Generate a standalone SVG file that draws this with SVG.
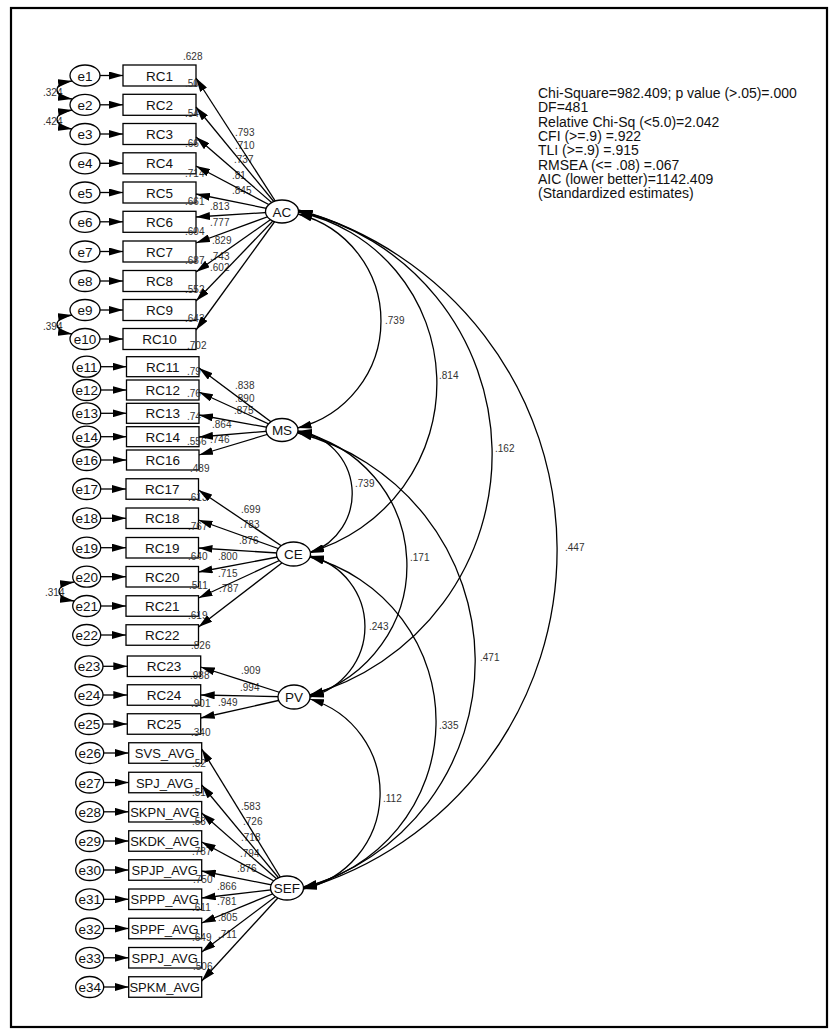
<svg xmlns="http://www.w3.org/2000/svg" width="838" height="1036" viewBox="0 0 838 1036">
<style>
.box{fill:#fff;stroke:#000;stroke-width:1.3}
.el{fill:#fff;stroke:#000;stroke-width:1.3}
.t{font-family:"Liberation Sans",Arial,sans-serif;font-size:13.5px;text-anchor:middle;fill:#111}
.ta{font-family:"Liberation Sans",Arial,sans-serif;font-size:13px;text-anchor:middle;fill:#111}
.v{font-family:"Liberation Sans",Arial,sans-serif;font-size:10px;fill:#333}
.fit{font-family:"Liberation Sans",Arial,sans-serif;font-size:14px;fill:#111}
.c{fill:none;stroke:#000;stroke-width:1.3;marker-end:url(#ah)}
.cv{fill:none;stroke:#000;stroke-width:1.3;marker-start:url(#ah);marker-end:url(#ah)}
</style>
<defs>
<marker id="ah" viewBox="0 0 14 8" refX="14" refY="4" markerWidth="14" markerHeight="8" markerUnits="userSpaceOnUse" orient="auto-start-reverse"><path d="M0,0 L14,4 L0,8 z" fill="#000"/></marker>
</defs>
<rect x="0" y="0" width="838" height="1036" fill="#fff"/>
<rect x="11" y="8" width="816" height="1019" fill="none" stroke="#000" stroke-width="2.2"/>

<!-- error terms -->
<g id="e1"><ellipse class="el" cx="85" cy="75.5" rx="15" ry="10.5"/><text class="t" x="85" y="80.5">e1</text></g>
<g id="e2"><ellipse class="el" cx="85" cy="104.8" rx="15" ry="10.5"/><text class="t" x="85" y="109.8">e2</text></g>
<g id="e3"><ellipse class="el" cx="85" cy="134" rx="15" ry="10.5"/><text class="t" x="85" y="139">e3</text></g>
<g id="e4"><ellipse class="el" cx="85" cy="163.3" rx="15" ry="10.5"/><text class="t" x="85" y="168.3">e4</text></g>
<g id="e5"><ellipse class="el" cx="85" cy="192.5" rx="15" ry="10.5"/><text class="t" x="85" y="197.5">e5</text></g>
<g id="e6"><ellipse class="el" cx="85" cy="221.8" rx="15" ry="10.5"/><text class="t" x="85" y="226.8">e6</text></g>
<g id="e7"><ellipse class="el" cx="85" cy="251.5" rx="15" ry="10.5"/><text class="t" x="85" y="256.5">e7</text></g>
<g id="e8"><ellipse class="el" cx="85" cy="281" rx="15" ry="10.5"/><text class="t" x="85" y="286">e8</text></g>
<g id="e9"><ellipse class="el" cx="85" cy="310" rx="15" ry="10.5"/><text class="t" x="85" y="315">e9</text></g>
<g id="e10"><ellipse class="el" cx="85" cy="339" rx="15" ry="10.5"/><text class="t" x="85" y="344">e10</text></g>
<g id="e11"><ellipse class="el" cx="86.7" cy="366.7" rx="14" ry="10.5"/><text class="t" x="86.7" y="371.7">e11</text></g>
<g id="e12"><ellipse class="el" cx="86.7" cy="390" rx="14" ry="10.5"/><text class="t" x="86.7" y="395">e12</text></g>
<g id="e13"><ellipse class="el" cx="86.7" cy="413.3" rx="14" ry="10.5"/><text class="t" x="86.7" y="418.3">e13</text></g>
<g id="e14"><ellipse class="el" cx="86.7" cy="436.7" rx="14" ry="10.5"/><text class="t" x="86.7" y="441.7">e14</text></g>
<g id="e16"><ellipse class="el" cx="86.7" cy="460" rx="14" ry="10.5"/><text class="t" x="86.7" y="465">e16</text></g>
<g id="e17"><ellipse class="el" cx="86.7" cy="489" rx="14" ry="10.5"/><text class="t" x="86.7" y="494">e17</text></g>
<g id="e18"><ellipse class="el" cx="86.7" cy="518.3" rx="14" ry="10.5"/><text class="t" x="86.7" y="523.3">e18</text></g>
<g id="e19"><ellipse class="el" cx="86.7" cy="547.7" rx="14" ry="10.5"/><text class="t" x="86.7" y="552.7">e19</text></g>
<g id="e20"><ellipse class="el" cx="86.7" cy="576.7" rx="14" ry="10.5"/><text class="t" x="86.7" y="581.7">e20</text></g>
<g id="e21"><ellipse class="el" cx="86.7" cy="606" rx="14" ry="10.5"/><text class="t" x="86.7" y="611">e21</text></g>
<g id="e22"><ellipse class="el" cx="86.7" cy="635" rx="14" ry="10.5"/><text class="t" x="86.7" y="640">e22</text></g>
<g id="e23"><ellipse class="el" cx="89" cy="666.3" rx="14" ry="10.5"/><text class="t" x="89" y="671.3">e23</text></g>
<g id="e24"><ellipse class="el" cx="89" cy="695" rx="14" ry="10.5"/><text class="t" x="89" y="700">e24</text></g>
<g id="e25"><ellipse class="el" cx="89" cy="724" rx="14" ry="10.5"/><text class="t" x="89" y="729">e25</text></g>
<g id="e26"><ellipse class="el" cx="89.7" cy="753" rx="14" ry="10.5"/><text class="t" x="89.7" y="758">e26</text></g>
<g id="e27"><ellipse class="el" cx="89.7" cy="782.5" rx="14" ry="10.5"/><text class="t" x="89.7" y="787.5">e27</text></g>
<g id="e28"><ellipse class="el" cx="89.7" cy="811.8" rx="14" ry="10.5"/><text class="t" x="89.7" y="816.8">e28</text></g>
<g id="e29"><ellipse class="el" cx="89.7" cy="841" rx="14" ry="10.5"/><text class="t" x="89.7" y="846">e29</text></g>
<g id="e30"><ellipse class="el" cx="89.7" cy="870" rx="14" ry="10.5"/><text class="t" x="89.7" y="875">e30</text></g>
<g id="e31"><ellipse class="el" cx="89.7" cy="899.3" rx="14" ry="10.5"/><text class="t" x="89.7" y="904.3">e31</text></g>
<g id="e32"><ellipse class="el" cx="89.7" cy="928.5" rx="14" ry="10.5"/><text class="t" x="89.7" y="933.5">e32</text></g>
<g id="e33"><ellipse class="el" cx="89.7" cy="957.8" rx="14" ry="10.5"/><text class="t" x="89.7" y="962.8">e33</text></g>
<g id="e34"><ellipse class="el" cx="89.7" cy="987" rx="14" ry="10.5"/><text class="t" x="89.7" y="992">e34</text></g>

<!-- indicators -->
<g id="RC1"><rect class="box" x="123" y="65" width="73" height="21"/><text class="t" x="159.5" y="80.5">RC1</text></g>
<g id="RC2"><rect class="box" x="123" y="94.3" width="73" height="21"/><text class="t" x="159.5" y="109.8">RC2</text></g>
<g id="RC3"><rect class="box" x="123" y="123.5" width="73" height="21"/><text class="t" x="159.5" y="139">RC3</text></g>
<g id="RC4"><rect class="box" x="123" y="152.8" width="73" height="21"/><text class="t" x="159.5" y="168.3">RC4</text></g>
<g id="RC5"><rect class="box" x="123" y="182" width="73" height="21"/><text class="t" x="159.5" y="197.5">RC5</text></g>
<g id="RC6"><rect class="box" x="123" y="211.3" width="73" height="21"/><text class="t" x="159.5" y="226.8">RC6</text></g>
<g id="RC7"><rect class="box" x="123" y="241" width="73" height="21"/><text class="t" x="159.5" y="256.5">RC7</text></g>
<g id="RC8"><rect class="box" x="123" y="270.5" width="73" height="21"/><text class="t" x="159.5" y="286">RC8</text></g>
<g id="RC9"><rect class="box" x="123" y="299.5" width="73" height="21"/><text class="t" x="159.5" y="315">RC9</text></g>
<g id="RC10"><rect class="box" x="123" y="328.5" width="73" height="21"/><text class="t" x="159.5" y="344">RC10</text></g>
<g id="RC11"><rect class="box" x="126.5" y="356.7" width="72.5" height="20"/><text class="t" x="162.75" y="371.7">RC11</text></g>
<g id="RC12"><rect class="box" x="126.5" y="380" width="72.5" height="20"/><text class="t" x="162.75" y="395">RC12</text></g>
<g id="RC13"><rect class="box" x="126.5" y="403.3" width="72.5" height="20"/><text class="t" x="162.75" y="418.3">RC13</text></g>
<g id="RC14"><rect class="box" x="126.5" y="426.7" width="72.5" height="20"/><text class="t" x="162.75" y="441.7">RC14</text></g>
<g id="RC16"><rect class="box" x="126.5" y="450" width="72.5" height="20"/><text class="t" x="162.75" y="465">RC16</text></g>
<g id="RC17"><rect class="box" x="126" y="478.75" width="72.5" height="20.5"/><text class="t" x="162.25" y="494">RC17</text></g>
<g id="RC18"><rect class="box" x="126" y="508" width="72.5" height="20.5"/><text class="t" x="162.25" y="523.3">RC18</text></g>
<g id="RC19"><rect class="box" x="126" y="537.5" width="72.5" height="20.5"/><text class="t" x="162.25" y="552.7">RC19</text></g>
<g id="RC20"><rect class="box" x="126" y="566.5" width="72.5" height="20.5"/><text class="t" x="162.25" y="581.7">RC20</text></g>
<g id="RC21"><rect class="box" x="126" y="595.75" width="72.5" height="20.5"/><text class="t" x="162.25" y="611">RC21</text></g>
<g id="RC22"><rect class="box" x="126" y="624.75" width="72.5" height="20.5"/><text class="t" x="162.25" y="640">RC22</text></g>
<g id="RC23"><rect class="box" x="127.3" y="656" width="73.4" height="20.5"/><text class="t" x="164" y="671.3">RC23</text></g>
<g id="RC24"><rect class="box" x="127.3" y="684.75" width="73.4" height="20.5"/><text class="t" x="164" y="700">RC24</text></g>
<g id="RC25"><rect class="box" x="127.3" y="713.75" width="73.4" height="20.5"/><text class="t" x="164" y="729">RC25</text></g>
<g id="SVS_AVG"><rect class="box" x="128.7" y="742.75" width="73" height="20.5"/><text class="ta" x="164.7" y="758">SVS_AVG</text></g>
<g id="SPJ_AVG"><rect class="box" x="128.7" y="772.25" width="73" height="20.5"/><text class="ta" x="164.7" y="787.5">SPJ_AVG</text></g>
<g id="SKPN_AVG"><rect class="box" x="128.7" y="801.5" width="73" height="20.5"/><text class="ta" x="164.7" y="816.8">SKPN_AVG</text></g>
<g id="SKDK_AVG"><rect class="box" x="128.7" y="830.75" width="73" height="20.5"/><text class="ta" x="164.7" y="846">SKDK_AVG</text></g>
<g id="SPJP_AVG"><rect class="box" x="128.7" y="859.75" width="73" height="20.5"/><text class="ta" x="164.7" y="875">SPJP_AVG</text></g>
<g id="SPPP_AVG"><rect class="box" x="128.7" y="889" width="73" height="20.5"/><text class="ta" x="164.7" y="904.3">SPPP_AVG</text></g>
<g id="SPPF_AVG"><rect class="box" x="128.7" y="918.25" width="73" height="20.5"/><text class="ta" x="164.7" y="933.5">SPPF_AVG</text></g>
<g id="SPPJ_AVG"><rect class="box" x="128.7" y="947.5" width="73" height="20.5"/><text class="ta" x="164.7" y="962.8">SPPJ_AVG</text></g>
<g id="SPKM_AVG"><rect class="box" x="128.7" y="976.75" width="73" height="20.5"/><text class="ta" x="164.7" y="992">SPKM_AVG</text></g>

<!-- estimate labels -->
<g id="labels" class="v">
<text x="183" y="59.5">.628</text>
<text x="185" y="86.5">.50</text>
<text x="185" y="116.5">.54</text>
<text x="185" y="146.5">.66</text>
<text x="185" y="176.5">.714</text>
<text x="185" y="205">.661</text>
<text x="185" y="235">.604</text>
<text x="185" y="263.5">.687</text>
<text x="185" y="292.5">.552</text>
<text x="185" y="321.5">.643</text>
<text x="187" y="348.5">.702</text>
<text x="235" y="135.5">.793</text>
<text x="235" y="148.5">.710</text>
<text x="234" y="162.5">.737</text>
<text x="232" y="178.5">.81</text>
<text x="232" y="193.5">.845</text>
<text x="210" y="210">.813</text>
<text x="210" y="226">.777</text>
<text x="212" y="244">.829</text>
<text x="210" y="260">.743</text>
<text x="210" y="271">.602</text>
<text x="187" y="375">.79</text>
<text x="187" y="396.5">.76</text>
<text x="187" y="420">.74</text>
<text x="187" y="445">.556</text>
<text x="190" y="471.5">.489</text>
<text x="235" y="388.5">.838</text>
<text x="235" y="402">.890</text>
<text x="234" y="414">.875</text>
<text x="212" y="427.5">.864</text>
<text x="210" y="442.5">.746</text>
<text x="188" y="501">.613</text>
<text x="188" y="530">.767</text>
<text x="188" y="559.5">.640</text>
<text x="189" y="588.5">.511</text>
<text x="188" y="618.5">.619</text>
<text x="191" y="648.5">.826</text>
<text x="241" y="513">.699</text>
<text x="240" y="528">.783</text>
<text x="239" y="543.5">.876</text>
<text x="218" y="560">.800</text>
<text x="218" y="577">.715</text>
<text x="219" y="592">.787</text>
<text x="190" y="678.5">.988</text>
<text x="191" y="707">.901</text>
<text x="191" y="736">.340</text>
<text x="241" y="674">.909</text>
<text x="240" y="691">.994</text>
<text x="218" y="706">.949</text>
<text x="192" y="767">.52</text>
<text x="192" y="796">.51</text>
<text x="192" y="825">.53</text>
<text x="192" y="854.5">.787</text>
<text x="193" y="883">.750</text>
<text x="192" y="911">.611</text>
<text x="192" y="941">.649</text>
<text x="193" y="969.5">.506</text>
<text x="241" y="810">.583</text>
<text x="243" y="825">.726</text>
<text x="241" y="841">.718</text>
<text x="240" y="857">.794</text>
<text x="237" y="872">.876</text>
<text x="217" y="889.5">.866</text>
<text x="217" y="905">.781</text>
<text x="218" y="921">.805</text>
<text x="218" y="937.5">.711</text>
<text x="43" y="95.5">.324</text>
<text x="43" y="125">.424</text>
<text x="43" y="329.5">.394</text>
<text x="45" y="596">.314</text>
<text x="385" y="324">.739</text>
<text x="439" y="378.5">.814</text>
<text x="495" y="451.5">.162</text>
<text x="565" y="551">.447</text>
<text x="355" y="487">.739</text>
<text x="410" y="560.5">.171</text>
<text x="480" y="660.5">.471</text>
<text x="369" y="629.5">.243</text>
<text x="439" y="728.5">.335</text>
<text x="383" y="801.5">.112</text>
</g>

<!-- connectors -->
<g id="connectors">
<line class="c" x1="100" y1="75.5" x2="123" y2="75.5"/>
<line class="c" x1="100" y1="104.8" x2="123" y2="104.8"/>
<line class="c" x1="100" y1="134" x2="123" y2="134"/>
<line class="c" x1="100" y1="163.3" x2="123" y2="163.3"/>
<line class="c" x1="100" y1="192.5" x2="123" y2="192.5"/>
<line class="c" x1="100" y1="221.8" x2="123" y2="221.8"/>
<line class="c" x1="100" y1="251.5" x2="123" y2="251.5"/>
<line class="c" x1="100" y1="281" x2="123" y2="281"/>
<line class="c" x1="100" y1="310" x2="123" y2="310"/>
<line class="c" x1="100" y1="339" x2="123" y2="339"/>
<line class="c" x1="100.7" y1="366.7" x2="126.5" y2="366.7"/>
<line class="c" x1="100.7" y1="390" x2="126.5" y2="390"/>
<line class="c" x1="100.7" y1="413.3" x2="126.5" y2="413.3"/>
<line class="c" x1="100.7" y1="436.7" x2="126.5" y2="436.7"/>
<line class="c" x1="100.7" y1="460" x2="126.5" y2="460"/>
<line class="c" x1="100.7" y1="489" x2="126" y2="489"/>
<line class="c" x1="100.7" y1="518.3" x2="126" y2="518.3"/>
<line class="c" x1="100.7" y1="547.7" x2="126" y2="547.7"/>
<line class="c" x1="100.7" y1="576.7" x2="126" y2="576.7"/>
<line class="c" x1="100.7" y1="606" x2="126" y2="606"/>
<line class="c" x1="100.7" y1="635" x2="126" y2="635"/>
<line class="c" x1="103" y1="666.3" x2="127.3" y2="666.3"/>
<line class="c" x1="103" y1="695" x2="127.3" y2="695"/>
<line class="c" x1="103" y1="724" x2="127.3" y2="724"/>
<line class="c" x1="103.7" y1="753" x2="128.7" y2="753"/>
<line class="c" x1="103.7" y1="782.5" x2="128.7" y2="782.5"/>
<line class="c" x1="103.7" y1="811.8" x2="128.7" y2="811.8"/>
<line class="c" x1="103.7" y1="841" x2="128.7" y2="841"/>
<line class="c" x1="103.7" y1="870" x2="128.7" y2="870"/>
<line class="c" x1="103.7" y1="899.3" x2="128.7" y2="899.3"/>
<line class="c" x1="103.7" y1="928.5" x2="128.7" y2="928.5"/>
<line class="c" x1="103.7" y1="957.8" x2="128.7" y2="957.8"/>
<line class="c" x1="103.7" y1="987" x2="128.7" y2="987"/>
<line class="c" x1="282" y1="211.5" x2="196" y2="78"/>
<line class="c" x1="282" y1="211.5" x2="196" y2="107"/>
<line class="c" x1="282" y1="211.5" x2="196" y2="137"/>
<line class="c" x1="282" y1="211.5" x2="196" y2="166"/>
<line class="c" x1="282" y1="211.5" x2="196" y2="194"/>
<line class="c" x1="282" y1="211.5" x2="196" y2="217"/>
<line class="c" x1="282" y1="211.5" x2="196" y2="243"/>
<line class="c" x1="282" y1="211.5" x2="196" y2="272"/>
<line class="c" x1="282" y1="211.5" x2="196" y2="301"/>
<line class="c" x1="282" y1="211.5" x2="196" y2="330"/>
<line class="c" x1="282" y1="430" x2="199" y2="368"/>
<line class="c" x1="282" y1="430" x2="199" y2="392"/>
<line class="c" x1="282" y1="430" x2="199" y2="415"/>
<line class="c" x1="282" y1="430" x2="199" y2="437"/>
<line class="c" x1="282" y1="430" x2="199" y2="455"/>
<line class="c" x1="293.5" y1="554" x2="198.5" y2="490"/>
<line class="c" x1="293.5" y1="554" x2="198.5" y2="520"/>
<line class="c" x1="293.5" y1="554" x2="198.5" y2="548"/>
<line class="c" x1="293.5" y1="554" x2="198.5" y2="572"/>
<line class="c" x1="293.5" y1="554" x2="198.5" y2="598"/>
<line class="c" x1="293.5" y1="554" x2="198.5" y2="627"/>
<line class="c" x1="294" y1="697" x2="200.7" y2="667"/>
<line class="c" x1="294" y1="697" x2="200.7" y2="695"/>
<line class="c" x1="294" y1="697" x2="200.7" y2="718"/>
<line class="c" x1="287" y1="888" x2="201.7" y2="749"/>
<line class="c" x1="287" y1="888" x2="201.7" y2="785"/>
<line class="c" x1="287" y1="888" x2="201.7" y2="813"/>
<line class="c" x1="287" y1="888" x2="201.7" y2="842"/>
<line class="c" x1="287" y1="888" x2="201.7" y2="871"/>
<line class="c" x1="287" y1="888" x2="201.7" y2="898"/>
<line class="c" x1="287" y1="888" x2="201.7" y2="923"/>
<line class="c" x1="287" y1="888" x2="201.7" y2="952"/>
<line class="c" x1="287" y1="888" x2="201.7" y2="981"/>
<path class="cv" d="M72,81 C52,84 52,96 72,99"/>
<path class="cv" d="M72,110 C52,113 52,126 72,129"/>
<path class="cv" d="M72,315 C52,318 52,331 72,334"/>
<path class="cv" d="M74,582 C54,585 54,598 74,601"/>
<path class="cv" d="M298,214 A110.4,110.4 0 0 1 297.5,428"/>
<path class="cv" d="M298.5,212 A175.4,175.4 0 0 1 310,552"/>
<path class="cv" d="M298.5,211 A249.8,249.8 0 0 1 309.5,695"/>
<path class="cv" d="M298.5,210 A353,353 0 0 1 303,889"/>
<path class="cv" d="M298,431 A63.1,63.1 0 0 1 310,553"/>
<path class="cv" d="M298,432 A136.2,136.2 0 0 1 309.5,696"/>
<path class="cv" d="M298,433 A235.5,235.5 0 0 1 303,888"/>
<path class="cv" d="M310,556 A72.7,72.7 0 0 1 310,697"/>
<path class="cv" d="M310,557 A169.9,169.9 0 0 1 303,887"/>
<path class="cv" d="M310,699 A98.2,98.2 0 0 1 303,889"/>
</g>

<!-- latent variables -->
<g id="AC"><ellipse class="el" cx="282" cy="211.5" rx="16.5" ry="11.5"/><text class="t" x="282" y="216.5">AC</text></g>
<g id="MS"><ellipse class="el" cx="282" cy="430" rx="16" ry="11.5"/><text class="t" x="282" y="435">MS</text></g>
<g id="CE"><ellipse class="el" cx="293.5" cy="554" rx="17" ry="12"/><text class="t" x="293.5" y="559">CE</text></g>
<g id="PV"><ellipse class="el" cx="294" cy="697" rx="16" ry="12"/><text class="t" x="294" y="702">PV</text></g>
<g id="SEF"><ellipse class="el" cx="287" cy="888" rx="16.5" ry="12"/><text class="t" x="287" y="893">SEF</text></g>

<!-- fit statistics -->
<g id="fit" class="fit">
<text x="538" y="98">Chi-Square=982.409; p value (&gt;.05)=.000</text>
<text x="538" y="112.3">DF=481</text>
<text x="538" y="126.6">Relative Chi-Sq (&lt;5.0)=2.042</text>
<text x="538" y="140.9">CFI (&gt;=.9) =.922</text>
<text x="538" y="155.2">TLI (&gt;=.9) =.915</text>
<text x="538" y="169.5">RMSEA (&lt;= .08) =.067</text>
<text x="538" y="183.8">AIC (lower better)=1142.409</text>
<text x="538" y="198.1">(Standardized estimates)</text>
</g>
</svg>
